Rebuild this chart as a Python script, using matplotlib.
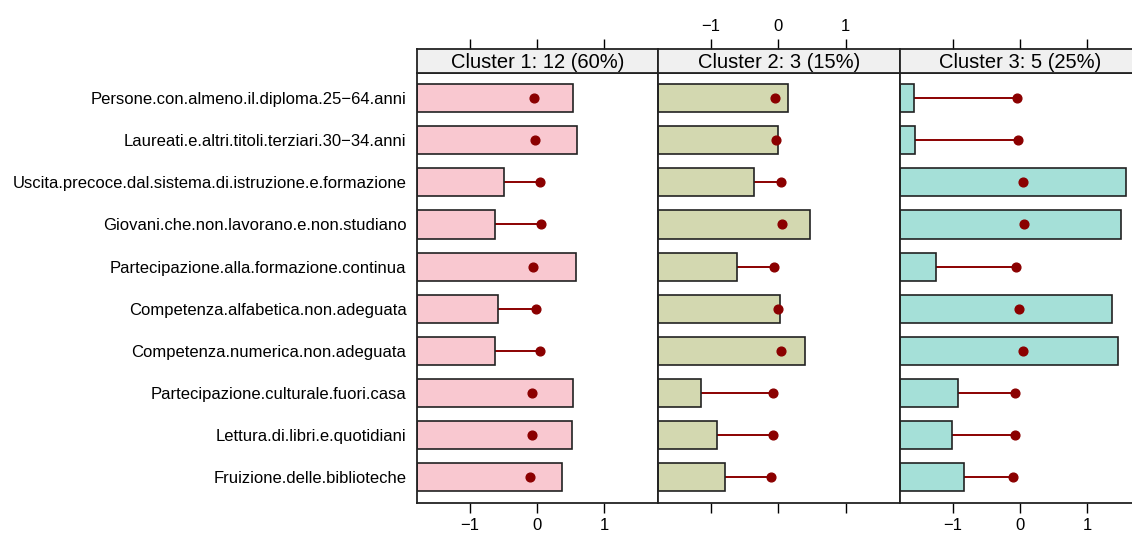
import matplotlib
matplotlib.use("Agg")
import matplotlib.pyplot as plt
import numpy as np

plt.rcParams["font.family"] = ["Liberation Sans", "DejaVu Sans"]

# Variables (top to bottom)
variables = [
    "Persone.con.almeno.il.diploma.25\u221264.anni",
    "Laureati.e.altri.titoli.terziari.30\u221234.anni",
    "Uscita.precoce.dal.sistema.di.istruzione.e.formazione",
    "Giovani.che.non.lavorano.e.non.studiano",
    "Partecipazione.alla.formazione.continua",
    "Competenza.alfabetica.non.adeguata",
    "Competenza.numerica.non.adeguata",
    "Partecipazione.culturale.fuori.casa",
    "Lettura.di.libri.e.quotidiani",
    "Fruizione.delle.biblioteche",
]

cluster_titles = ["Cluster 1: 12 (60%)", "Cluster 2: 3 (15%)", "Cluster 3: 5 (25%)"]

# Cluster centres (standardised scale)
cluster1 = [0.54, 0.60, -0.49, -0.63, 0.58, -0.58, -0.63, 0.54, 0.52, 0.38]
cluster2 = [0.14, 0.00, -0.37, 0.47, -0.62, 0.03, 0.39, -1.15, -0.91, -0.79]
cluster3 = [-1.57, -1.56, 1.58, 1.50, -1.25, 1.37, 1.46, -0.92, -1.01, -0.83]
centres = [cluster1, cluster2, cluster3]

# Overall mean of each variable
overall = [-0.045, -0.035, 0.04, 0.06, -0.06, -0.01, 0.045, -0.08, -0.08, -0.11]

bar_colors = ["#F9C8D0", "#D3D8B0", "#A5E0D8"]
dot_color = "#8B0000"

xticks = [-1, 0, 1]
xlim = (-1.79, 1.80)

W, H = 1132, 534
fig = plt.figure(figsize=(W / 100, H / 100), dpi=100)

panel_w = 241.5
lefts = [416.5, 658.0, 899.5]
ax_bot, ax_top, strip_top = 502.7, 72.7, 49.3

n = len(variables)
ypos = np.arange(n, 0, -1)
bar_h = 0.667
spine_lw = 1.3

for k in range(3):
    left = lefts[k]
    ax = fig.add_axes([left / W, (H - ax_bot) / H, panel_w / W, (ax_bot - ax_top) / H])
    st = fig.add_axes([left / W, (H - ax_top) / H, panel_w / W, (ax_top - strip_top) / H])

    vals = np.array(centres[k])
    mean = np.array(overall)

    # segment from bar end to the overall mean
    ax.hlines(ypos, vals, mean, color=dot_color, lw=1.4, zorder=1)
    ax.barh(ypos, vals - xlim[0], left=xlim[0], height=bar_h,
            color=bar_colors[k], edgecolor="#222222", linewidth=1.2, zorder=2)
    ax.plot(mean, ypos, "o", color=dot_color, ms=6.3, zorder=3, linestyle="none")

    ax.set_xlim(*xlim)
    ax.set_ylim(0.4, n + 0.6)
    ax.set_xticks(xticks)
    ax.tick_params(axis="x", direction="out", length=7.2, width=1.0,
                   labelsize=12, pad=4, labelbottom=(k != 1))
    ax.tick_params(axis="y", length=0, pad=7.2, labelsize=12)
    if k == 0:
        ax.set_yticks(ypos)
        ax.set_yticklabels(variables)
    else:
        ax.set_yticks([])
    for sp in ax.spines.values():
        sp.set_linewidth(spine_lw)
        sp.set_color("#222222")

    # strip with cluster title and top ticks
    st.set_facecolor("#F0F0F0")
    st.set_xlim(*xlim)
    st.set_ylim(0, 1)
    st.set_yticks([])
    st.set_xticks(xticks)
    st.xaxis.set_ticks_position("top")
    st.tick_params(axis="x", direction="out", length=7.2, width=1.0,
                   labelsize=12, pad=4, labeltop=(k == 1), labelbottom=False,
                   bottom=False)
    st.text(0.5, 0.45, cluster_titles[k], transform=st.transAxes,
            ha="center", va="center", fontsize=14.5)
    for sp in st.spines.values():
        sp.set_linewidth(spine_lw)
        sp.set_color("#222222")

fig.savefig("out.png", dpi=100)
